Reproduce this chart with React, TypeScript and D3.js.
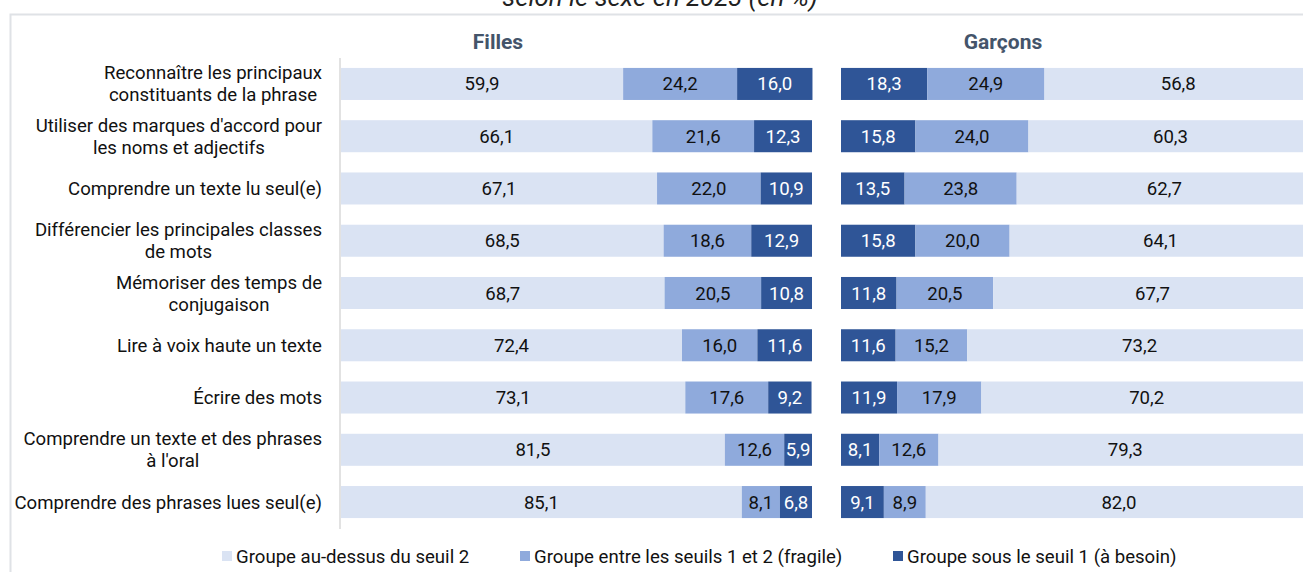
import React, { useEffect, useRef } from "react";
import * as d3 from "d3";

const categories: string[][] = [
  ["Reconnaître les principaux", "constituants de la phrase"],
  ["Utiliser des marques d'accord pour", "les noms et adjectifs"],
  ["Comprendre un texte lu seul(e)"],
  ["Différencier les principales classes", "de mots"],
  ["Mémoriser des temps de", "conjugaison"],
  ["Lire à voix haute un texte"],
  ["Écrire des mots"],
  ["Comprendre un texte et des phrases", "à l'oral"],
  ["Comprendre des phrases lues seul(e)"],
];

// Filles
const fillesAuDessus = [59.9, 66.1, 67.1, 68.5, 68.7, 72.4, 73.1, 81.5, 85.1];
const fillesFragile = [24.2, 21.6, 22.0, 18.6, 20.5, 16.0, 17.6, 12.6, 8.1];
const fillesBesoin = [16.0, 12.3, 10.9, 12.9, 10.8, 11.6, 9.2, 5.9, 6.8];
// Garçons
const garconsBesoin = [18.3, 15.8, 13.5, 15.8, 11.8, 11.6, 11.9, 8.1, 9.1];
const garconsFragile = [24.9, 24.0, 23.8, 20.0, 20.5, 15.2, 17.9, 12.6, 8.9];
const garconsAuDessus = [56.8, 60.3, 62.7, 64.1, 67.7, 73.2, 70.2, 79.3, 82.0];

const seriesNames = [
  "Groupe au-dessus du seuil 2",
  "Groupe entre les seuils 1 et 2 (fragile)",
  "Groupe sous le seuil 1 (à besoin)",
];
const panelTitles = ["Filles", "Garçons"];
const title = "selon le sexe en 2023 (en %)";

const COLORS = ["#dae3f3", "#8faadc", "#2f5597"];
const FONT = "Roboto, 'Noto Sans', sans-serif";
const FS = 18.6;

export default function App() {
  const ref = useRef<SVGSVGElement>(null);

  useEffect(() => {
    const svg = d3.select(ref.current);
    svg.selectAll("*").remove();
    const W = 1303, H = 572;

    // frame
    svg.append("rect").attr("x", 10.5).attr("y", 14.5).attr("width", W + 20).attr("height", H + 20)
      .attr("fill", "white").attr("stroke", "#dfe2e6").attr("stroke-width", 2);

    // title
    svg.append("text").attr("x", 660).attr("y", 6).attr("text-anchor", "middle")
      .attr("font-family", FONT).attr("font-style", "italic").attr("font-size", 25.8).attr("fill", "#222")
      .text(title);

    const idx = categories.map((_, i) => String(i));
    const y = d3.scaleBand().domain(idx).range([58, 528]).paddingInner(0.387).paddingOuter(0.19);
    const xF = d3.scaleLinear().domain([0, 100]).range([341, 812]);
    const xG = d3.scaleLinear().domain([0, 100]).range([841, 1312]);

    // axis line
    svg.append("line").attr("x1", 340).attr("x2", 340).attr("y1", 58).attr("y2", 529)
      .attr("stroke", "#d9d9d9").attr("stroke-width", 1.5);

    // panel titles
    [[498, panelTitles[0]], [1003, panelTitles[1]]].forEach(([cx, t]) => {
      svg.append("text").attr("x", cx as number).attr("y", 49).attr("text-anchor", "middle")
        .attr("font-family", FONT).attr("font-weight", "bold").attr("font-size", 21).attr("fill", "#44546a")
        .text(t as string);
    });

    const drawPanel = (x: d3.ScaleLinear<number, number>, series: number[][], colorIdx: number[]) => {
      idx.forEach((k, i) => {
        let acc = 0;
        series.forEach((s, j) => {
          const v = s[i];
          const x0 = x(acc), x1 = x(acc + v);
          acc += v;
          const g = svg.append("g");
          g.append("rect").attr("x", x0).attr("y", y(k)!).attr("width", x1 - x0).attr("height", y.bandwidth())
            .attr("fill", COLORS[colorIdx[j]]);
          g.append("text").attr("x", (x0 + x1) / 2).attr("y", y(k)! + y.bandwidth() / 2)
            .attr("dy", "0.35em").attr("text-anchor", "middle").attr("font-family", FONT).attr("font-size", FS)
            .attr("fill", colorIdx[j] === 2 ? "#ffffff" : "#111111")
            .text(d3.format(".1f")(v).replace(".", ","));
        });
      });
    };
    drawPanel(xF, [fillesAuDessus, fillesFragile, fillesBesoin], [0, 1, 2]);
    drawPanel(xG, [garconsBesoin, garconsFragile, garconsAuDessus], [2, 1, 0]);

    // category labels
    const RIGHT = 322;
    const LH = 22;
    categories.forEach((lines, i) => {
      const cy = y(String(i))! + y.bandwidth() / 2;
      const g = svg.append("g");
      const texts = lines.map((l, j) =>
        g.append("text").attr("y", cy + (j - (lines.length - 1) / 2) * LH).attr("dy", "0.35em")
          .attr("font-family", FONT).attr("font-size", FS).attr("fill", "#111").attr("text-anchor", "middle")
          .text(l)
      );
      const maxW = d3.max(texts, (t) => (t.node() as SVGTextElement).getComputedTextLength()) || 0;
      texts.forEach((t) => t.attr("x", RIGHT - maxW / 2));
    });

    // legend
    const legX = [222, 520, 893];
    seriesNames.forEach((n, i) => {
      svg.append("rect").attr("x", legX[i]).attr("y", 551).attr("width", 10).attr("height", 10).attr("fill", COLORS[i]);
      svg.append("text").attr("x", legX[i] + 14).attr("y", 556).attr("dy", "0.35em")
        .attr("font-family", FONT).attr("font-size", FS).attr("fill", "#111").text(n);
    });
  }, []);

  return (
    <svg ref={ref} width={1303} height={572}
      style={{ position: "absolute", left: 0, top: 0, display: "block", background: "white" }} />
  );
}
